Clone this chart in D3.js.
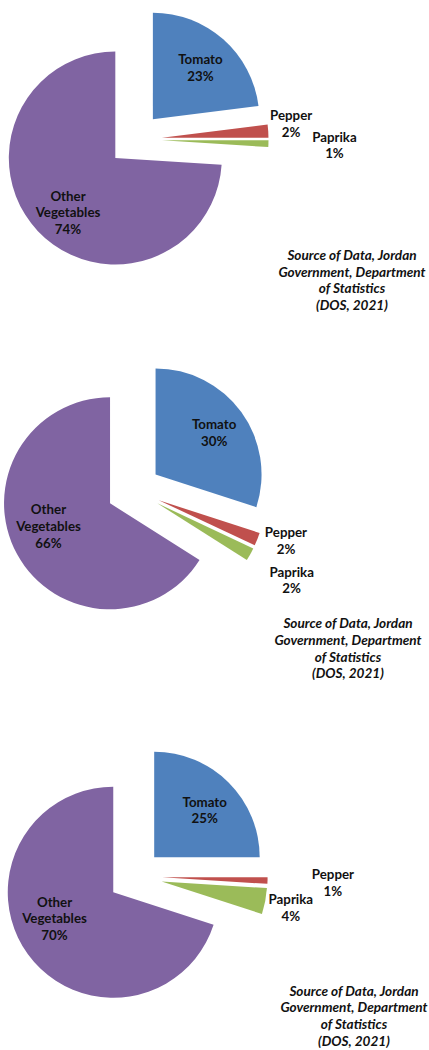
<!DOCTYPE html>
<html>
<head>
<meta charset="utf-8">
<script src="https://cdn.jsdelivr.net/npm/d3@7"></script>
<style>
  html, body { margin: 0; padding: 0; background: #fff; }
  svg { display: block; }
  text { font-family: Lato, "Open Sans", sans-serif; fill: #111; }
</style>
</head>
<body>
<svg id="chart" width="429" height="1050"></svg>
<script>
// Crop shares (%) of vegetable production, one pie per panel
const categories = ["Tomato", "Pepper", "Paprika", "Other Vegetables"];
const sharesTop = [23, 2, 1, 74];
const sharesMiddle = [30, 2, 2, 66];
const sharesBottom = [25, 1, 4, 70];
const sourceNote = ["Source of Data, Jordan", "Government, Department", "of Statistics", "(DOS, 2021)"];

const colors = ["#4F81BD", "#C0504D", "#9BBB59", "#8064A2"];

// Layout for each panel: pie centre, source note anchor, and label placement
// (k = distance as a fraction of the radius, da = angle nudge in degrees)
const panels = [
  { shares: sharesTop, cx: 135, cy: 139.5, r: 106.5,
    note: { x: 352, y: 260 },
    labels: [{ k: 0.66, da: 1.2 }, { k: 1.22, da: -2.5 }, { k: 1.62, da: -0.2 }, { k: 0.68, da: -6 }] },
  { shares: sharesMiddle, cx: 133.7, cy: 490.3, r: 106,
    note: { x: 348, y: 628.3 },
    labels: [{ k: 0.68, da: 0.4 }, { k: 1.26, da: -3.8 }, { k: 1.46, da: 1.0 }, { k: 0.62, da: 8.3 }] },
  { shares: sharesBottom, cx: 135.1, cy: 876.4, r: 105.5,
    note: { x: 354, y: 995.7 },
    labels: [{ k: 0.655, da: 2 }, { k: 1.62, da: 0.1 }, { k: 1.25, da: 0.75 }, { k: 0.61, da: 11.9 }] }
];

const explode = 27;
const labelSize = 13.3;
const noteSize = 13.6;
const lineH = 16.7;

const svg = d3.select("#chart");
const color = d3.scaleOrdinal().domain(categories).range(colors);
const pie = d3.pie().sort(null).value(d => d.value);

panels.forEach(p => {
  const data = categories.map((c, i) => ({ name: c, value: p.shares[i] }));
  const arcs = pie(data);
  const arc = d3.arc().innerRadius(0).outerRadius(p.r);
  const total = d3.sum(p.shares);

  const g = svg.append("g").attr("transform", `translate(${p.cx},${p.cy})`);

  const slice = g.selectAll("g.slice")
    .data(arcs)
    .join("g")
    .attr("class", "slice")
    .attr("transform", d => {
      const a = (d.startAngle + d.endAngle) / 2;
      return `translate(${explode * Math.sin(a)},${-explode * Math.cos(a)})`;
    });

  slice.append("path")
    .attr("d", arc)
    .attr("fill", d => color(d.data.name));

  // Category + percentage labels
  slice.each(function (d, i) {
    const lp = p.labels[i];
    const a = (d.startAngle + d.endAngle) / 2 + lp.da * Math.PI / 180;
    const x = lp.k * p.r * Math.sin(a);
    const y = -lp.k * p.r * Math.cos(a);
    const words = d.data.name === "Other Vegetables" ? ["Other", "Vegetables"] : [d.data.name];
    const lines = words.concat([Math.round(d.data.value / total * 100) + "%"]);
    const t = d3.select(this).append("text")
      .attr("text-anchor", "middle")
      .attr("font-weight", "bold")
      .attr("font-size", labelSize);
    lines.forEach((ln, j) => {
      t.append("tspan")
        .attr("x", x)
        .attr("y", y + (j - (lines.length - 1) / 2) * lineH + 4.7)
        .text(ln);
    });
  });

  // Source note
  const note = svg.append("text")
    .attr("text-anchor", "middle")
    .attr("font-weight", "bold")
    .attr("font-style", "italic")
    .attr("font-size", noteSize);
  sourceNote.forEach((ln, j) => {
    note.append("tspan")
      .attr("x", p.note.x)
      .attr("y", p.note.y + j * lineH)
      .text(ln);
  });
});
</script>
</body>
</html>
